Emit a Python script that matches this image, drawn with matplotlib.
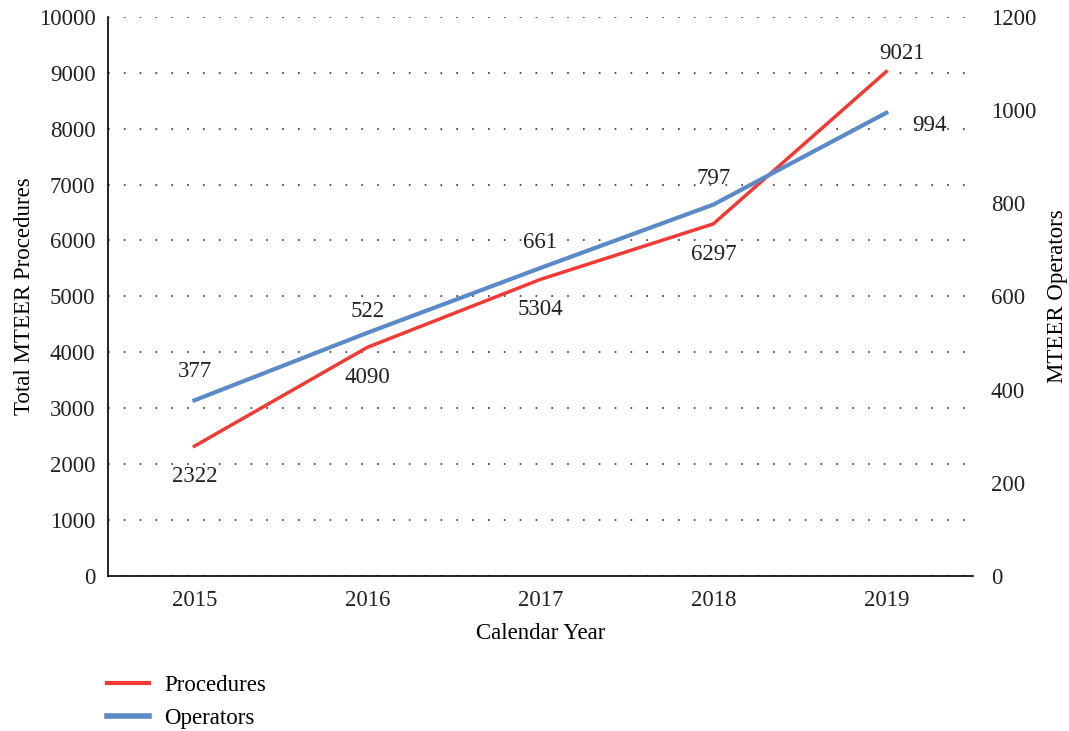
import matplotlib.pyplot as plt
from matplotlib.lines import Line2D

plt.rcParams['font.family'] = ['Liberation Serif', 'DejaVu Serif']

years = [2015, 2016, 2017, 2018, 2019]
procedures = [2322, 4090, 5304, 6297, 9021]
operators = [377, 522, 661, 797, 994]

red = '#f03a35'
blue = '#5b8ac9'
fs = 16.5

fig = plt.figure(figsize=(10.69, 7.31), dpi=100)
ax = fig.add_axes([0.101, 0.212, 0.809, 0.765])
ax2 = ax.twinx()

ax.plot(years, procedures, color=red, lw=2.5, zorder=3)
ax2.plot(years, operators, color=blue, lw=3, zorder=3)

ax.set_xlim(2014.5, 2019.5)
ax.set_ylim(0, 10000)
ax2.set_ylim(0, 1200)
ax.set_yticks(range(0, 10001, 1000))
ax2.set_yticks(range(0, 1201, 200))
ax.set_xticks(years)

ax.grid(axis='y', linestyle=(0, (1, 8.5)), color='#333333', lw=1.2)
ax.set_axisbelow(True)

for a in (ax, ax2):
    a.tick_params(length=0, labelsize=fs, colors='#222222')
    a.spines['top'].set_visible(False)
    a.spines['right'].set_visible(False)
ax2.spines['left'].set_visible(False)
ax2.spines['bottom'].set_visible(False)
ax.spines['left'].set_linewidth(1.2)
ax.spines['bottom'].set_linewidth(1.2)
ax.tick_params(axis='x', pad=10)
ax.tick_params(axis='y', pad=9)
ax2.tick_params(axis='y', pad=13)

ax.set_xlabel('Calendar Year', fontsize=fs, labelpad=9)
ax.set_ylabel('Total MTEER Procedures', fontsize=fs, labelpad=3)
ax2.set_ylabel('MTEER Operators', fontsize=fs, labelpad=8, rotation=90)

# data labels
for i, (x, v) in enumerate(zip(years, procedures)):
    if i == len(years) - 1:
        ax.annotate(str(v), (x, v), xytext=(11, 13), textcoords='offset points',
                    ha='center', va='center', fontsize=fs, color='#222222')
    else:
        ax.annotate(str(v), (x, v), xytext=(0, -22), textcoords='offset points',
                    ha='center', va='center', fontsize=fs, color='#222222')

for i, (x, v) in enumerate(zip(years, operators)):
    if i == len(years) - 1:
        ax2.annotate(str(v), (x, v), xytext=(31, -9), textcoords='offset points',
                     ha='center', va='center', fontsize=fs, color='#222222')
    else:
        off = [21, 15, 18, 19][i]
        ax2.annotate(str(v), (x, v), xytext=(0, off), textcoords='offset points',
                     ha='center', va='center', fontsize=fs, color='#222222')

handles = [Line2D([], [], color=red, lw=3), Line2D([], [], color=blue, lw=4)]
fig.legend(handles, ['Procedures', 'Operators'], loc='upper left',
           bbox_to_anchor=(0.1, 0.076), frameon=False, fontsize=fs,
           handlelength=1.85, handletextpad=0.65, labelspacing=0.5,
           borderaxespad=0, borderpad=0)

fig.savefig('out.png', dpi=100)
